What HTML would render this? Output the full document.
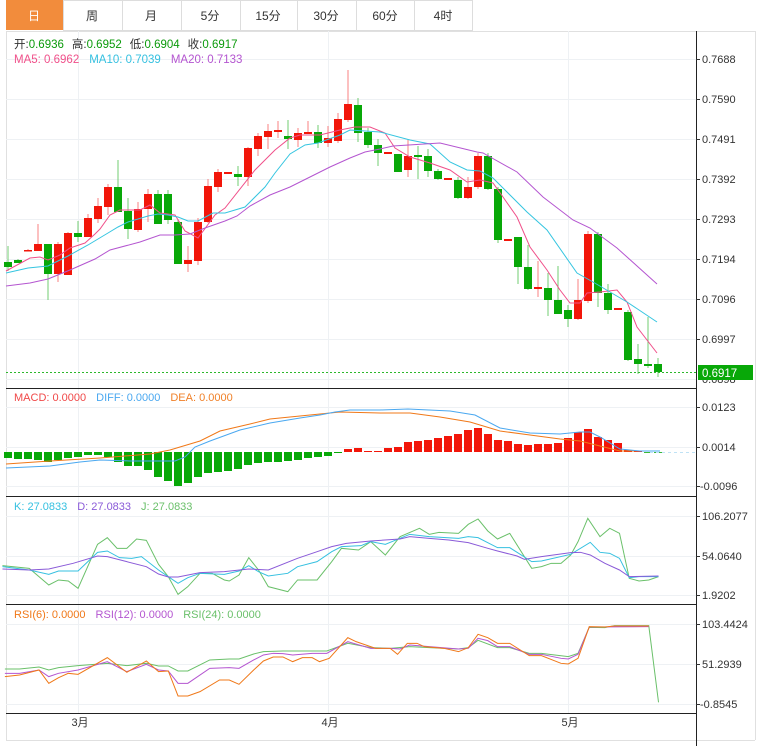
<!DOCTYPE html>
<html><head><meta charset="utf-8"><style>
body{margin:0;background:#fff;width:763px;height:746px;overflow:hidden;font-family:"Liberation Sans","Noto Sans CJK SC",sans-serif;}
svg{position:absolute;left:0;top:0}
</style></head><body>
<svg id="s" width="763" height="746" xmlns="http://www.w3.org/2000/svg" font-family="Liberation Sans, Noto Sans CJK SC, sans-serif">
<rect x="0" y="0" width="763" height="746" fill="#fff"/>
<!-- tabs -->
<g font-size="12" fill="#333" text-anchor="middle">
<rect x="6" y="0" width="57" height="30" fill="#f28c3c"/>
<rect x="63.5" y="0.5" width="409" height="30" fill="none" stroke="#ddd"/>
<path d="M122.5 0V30M181.5 0V30M240.5 0V30M297.5 0V30M356.5 0V30M414.5 0V30" stroke="#ddd"/>
<text x="34" y="20" fill="#fff">日</text><text x="92" y="20">周</text><text x="151" y="20">月</text><text x="210" y="20">5分</text><text x="268" y="20">15分</text><text x="326" y="20">30分</text><text x="385" y="20">60分</text><text x="443" y="20">4时</text>
</g>
<!-- frame -->
<path d="M6.5 31V740M6 740.5H755M755.5 31V740M6 31.5H755" stroke="#e0e0e0" fill="none"/>
<g stroke="#eef1f4">
<path d="M6 59.5H696M6 99.5H696M6 139.5H696M6 179.5H696M6 219.5H696M6 259.5H696M6 299.5H696M6 339.5H696M6 379.5H696"/>
<path d="M6 407.5H696M6 447.5H696M6 486.5H696M6 516.5H696M6 556.5H696M6 595.5H696M6 624.5H696M6 664.5H696M6 704.5H696"/>
<path d="M78.5 31V713M328.5 31V713M568.5 31V713"/>
</g>
<path d="M6 388.5H696M6 496.5H696M6 604.5H696M6 713.5H696" stroke="#222"/>
<path d="M696.5 31V746" stroke="#222"/>
<g font-size="11" fill="#333">
<text x="702" y="63">0.7688</text><text x="702" y="103">0.7590</text><text x="702" y="143">0.7491</text><text x="702" y="183">0.7392</text><text x="702" y="223">0.7293</text><text x="702" y="263">0.7194</text><text x="702" y="303">0.7096</text><text x="702" y="343">0.6997</text><text x="702" y="383">0.6898</text>
<text x="702" y="411">0.0123</text><text x="702" y="451">0.0014</text><text x="700" y="490">-0.0096</text>
<text x="702" y="520">106.2077</text><text x="702" y="560">54.0640</text><text x="702" y="599">1.9202</text>
<text x="702" y="628">103.4424</text><text x="702" y="668">51.2939</text><text x="700" y="708">-0.8545</text>
</g>
<g stroke="#333"><path d="M696 59.5h4M696 99.5h4M696 139.5h4M696 179.5h4M696 219.5h4M696 259.5h4M696 299.5h4M696 339.5h4M696 407.5h4M696 447.5h4M696 486.5h4M696 516.5h4M696 556.5h4M696 595.5h4M696 624.5h4M696 664.5h4M696 704.5h4"/></g>
<g font-size="11" fill="#333" text-anchor="middle"><text x="80" y="726">3月</text><text x="330" y="726">4月</text><text x="570" y="726">5月</text></g>
<!-- legends -->
<g font-size="11.5">
<text x="14" y="48"><tspan fill="#333">开:</tspan><tspan fill="#0a9a0a">0.6936</tspan><tspan fill="#333" dx="8">高:</tspan><tspan fill="#0a9a0a">0.6952</tspan><tspan fill="#333" dx="8">低:</tspan><tspan fill="#0a9a0a">0.6904</tspan><tspan fill="#333" dx="8">收:</tspan><tspan fill="#0a9a0a">0.6917</tspan></text>
<text x="14" y="63"><tspan fill="#f0508a">MA5: 0.6962</tspan><tspan fill="#35c0e0" dx="10">MA10: 0.7039</tspan><tspan fill="#b455d0" dx="10">MA20: 0.7133</tspan></text>
<text x="14" y="401" font-size="11"><tspan fill="#f04848">MACD: 0.0000</tspan><tspan fill="#4aa8f0" dx="10">DIFF: 0.0000</tspan><tspan fill="#f08028" dx="10">DEA: 0.0000</tspan></text>
<text x="14" y="510" font-size="11"><tspan fill="#35c0e0">K: 27.0833</tspan><tspan fill="#8a5ad8" dx="10">D: 27.0833</tspan><tspan fill="#6ac06a" dx="10">J: 27.0833</tspan></text>
<text x="14" y="618" font-size="11"><tspan fill="#f07818">RSI(6): 0.0000</tspan><tspan fill="#b455d0" dx="10">RSI(12): 0.0000</tspan><tspan fill="#6ac06a" dx="10">RSI(24): 0.0000</tspan></text>
</g>
<g id="dyn"></g>
<path d="M6 372.5H696" stroke="#2cb82c" stroke-dasharray="2,2"/>
<rect x="698" y="365" width="55" height="15" fill="#08a808"/>
<text x="702" y="377" font-size="11.5" fill="#fff">0.6917</text>
<path d="M650 452.5H696" stroke="#bfe2f5" stroke-dasharray="3,3"/>
</svg>
<script>
var NS="http://www.w3.org/2000/svg",g=document.getElementById("dyn");
function el(t,a){var e=document.createElementNS(NS,t);for(var k in a)e.setAttribute(k,a[k]);g.appendChild(e);return e;}
// [bodyTop,bodyBot,wickTop,wickBot,color r/g]
var C=[[262,267,246,271,'g'],[260,263,259,263,'g'],[250,251,249,251,'r'],[244,251,224,251,'r'],[244,274,244,300,'g'],[244,274,242,282,'r'],[233,275,232,275,'r'],[233,237,221,242,'g'],[218,237,214,237,'r'],[206,219,198,223,'r'],[187,207,184,215,'r'],[187,212,160,212,'g'],[211,229,198,239,'g'],[209,230,202,232,'r'],[194,209,189,222,'r'],[194,224,190,224,'g'],[194,220,190,224,'g'],[222,264,219,264,'g'],[260,264,246,272,'r'],[222,261,218,265,'r'],[186,222,179,223,'r'],[172,187,169,192,'r'],[172,174,172,174,'r'],[174,177,166,186,'g'],[148,177,147,186,'r'],[136,149,133,156,'r'],[131,137,124,149,'r'],[130,132,121,138,'r'],[136,139,120,149,'g'],[133,140,128,147,'r'],[132,134,121,134,'r'],[132,143,125,148,'g'],[138,143,126,147,'r'],[119,141,113,143,'r'],[104,120,70,122,'r'],[105,133,98,142,'g'],[132,145,128,148,'g'],[145,153,139,166,'g'],[152,154,152,154,'r'],[154,172,154,172,'g'],[156,170,139,177,'r'],[155,157,146,179,'g'],[156,171,149,177,'g'],[171,179,169,180,'g'],[178,180,178,180,'r'],[180,198,177,199,'g'],[187,198,177,199,'r'],[156,187,153,189,'r'],[156,189,153,190,'g'],[189,240,187,243,'g'],[239,241,239,241,'r'],[237,267,237,284,'g'],[267,289,245,290,'g'],[287,289,261,297,'r'],[288,300,273,316,'g'],[300,314,266,314,'g'],[310,319,305,327,'g'],[300,319,279,320,'r'],[234,301,231,303,'r'],[234,293,232,307,'g'],[293,310,284,314,'g'],[308,310,308,310,'r'],[312,360,310,361,'g'],[359,364,344,374,'g'],[364,366,317,368,'g'],[364,372,358,377,'g']];
var RED="#f2160a",GRN="#08a808";
C.forEach(function(c,i){var x=8+10*i,col=c[4]=='r'?RED:GRN,wc=c[4]=='r'?"#f88080":"#70cc70";
el("line",{x1:x,x2:x,y1:c[2],y2:c[3],stroke:wc,"stroke-width":1});
el("rect",{x:x-4,y:c[0],width:8,height:Math.max(1.5,c[1]-c[0]),fill:col});});
function pl(pts,col,w,tr){var e=el("polyline",{points:pts,fill:"none",stroke:col,"stroke-width":w||1,"vector-effect":"non-scaling-stroke"});if(tr)e.setAttribute("transform",tr);}
pl("6,271 30,258 40,257 48,260 60,255 70,248 85,243 95,234 100,229 110,215 120,210 140,210 150,205 160,213 175,215 185,231 198,238 215,215 225,208 255,170 275,150 290,138 300,135 320,135 340,130 355,127 370,127 385,133 395,148 410,157 430,163 450,170 467,182 480,180 493,183 503,197 517,217 530,247 547,270 560,290 570,303 580,303 587,293 600,292 617,290 627,302 637,327 657,353","#f0508a");
pl("6,273 28,268 48,266 68,256 88,245 108,233 118,227 128,222 148,216 158,214 168,215 178,217 188,221 198,221 213,213 225,213 245,207 265,187 275,173 290,154 305,145 318,143 340,135 350,130 365,131 380,132 410,140 430,144 450,162 467,170 480,171 493,178 527,212 547,230 577,273 593,282 627,302 657,322","#35c5e0");
pl("6,286 30,283 48,279 70,270 95,259 110,250 140,242 160,235 175,235 190,234 205,228 225,221 237,216 250,206 270,195 290,187 310,177 330,167 350,158 365,152 380,149 393,146 440,143 477,152 483,153 517,172 543,197 573,220 590,228 617,248 657,284","#b455d0");
// MACD bars
var M=[458,459,459,460,462,460,458,457,455,455,457,462,466,466,470,477,481,486,483,477,473,472,471,469,465,463,462,462,461,460,458,457,456,453,449,448,451,451,448,447,442,441,440,438,436,434,430,428,434,440,441,444,445,444,444,443,438,432,429,437,440,443,450,451,452,452];
M.forEach(function(v,i){var x=8+10*i;if(v>=452)el("rect",{x:x-4,y:452,width:8,height:Math.max(0.8,v-452),fill:GRN});else el("rect",{x:x-4,y:v,width:8,height:452-v,fill:RED});});
pl("6,464 50,461 100,458 150,454 170,450 200,441 220,431 250,424 270,419 300,416 330,413 340,412 380,413 410,413 440,417 470,422 500,431 530,435 560,439 580,441 600,446 620,451 660,451","#f07818");
pl("6,468 50,466 80,462 100,460 130,461 175,461 185,457 195,447 210,441 240,430 270,423 300,418 320,415 335,412 350,410 380,410 408,409 450,411 475,415 500,428 530,433 560,434 580,432 590,432 600,437 620,449 640,451 660,451","#4aa8f0");
var T="translate(0,495) scale(0.4878,0.3333)";
pl("5,212 60,220 100,270 120,255 140,258 160,280 200,148 220,128 240,160 260,160 280,132 300,136 325,208 345,245 365,298 385,275 410,235 435,235 460,255 470,258 490,240 510,188 530,225 550,275 590,290 610,255 650,255 680,200 700,160 735,165 760,140 790,180 820,125 860,100 880,118 900,112 940,115 960,88 980,72 1000,108 1020,132 1045,115 1090,220 1110,215 1130,205 1150,205 1170,180 1185,140 1205,70 1230,125 1250,100 1270,115 1290,250 1310,258 1330,255 1350,245","#6ac06a",1,T);
pl("5,215 60,225 100,238 120,228 160,228 200,172 220,168 245,188 270,190 290,185 325,225 345,245 365,265 385,248 410,235 460,238 490,228 510,212 530,230 550,243 590,235 610,215 650,200 680,170 700,155 740,152 760,140 790,148 820,130 840,118 880,125 940,130 960,125 980,128 1000,143 1020,158 1045,158 1090,200 1110,198 1170,178 1210,142 1230,172 1250,175 1270,190 1290,248 1310,245 1350,245","#35c0e0",1,T);
pl("5,222 60,225 100,222 150,205 200,183 220,185 260,200 300,215 325,237 345,246 365,246 410,233 460,230 510,222 550,225 610,190 650,170 680,155 710,145 760,138 820,132 840,125 880,130 920,135 960,143 1000,160 1020,168 1060,183 1075,193 1110,185 1170,173 1190,172 1210,180 1240,205 1270,225 1290,245 1350,243","#8a5ad8",1,T);
pl("10,522 40,522 80,516 100,525 120,518 160,512 220,505 260,512 300,505 325,513 345,513 365,528 385,528 430,495 470,492 490,492 520,477 540,470 580,468 640,468 670,468 713,445 760,458 800,460 840,455 880,458 940,462 960,458 980,436 1020,458 1045,458 1085,475 1110,475 1165,485 1185,475 1208,397 1240,398 1260,392 1330,392 1350,622","#6ac06a",1,T);
pl("10,535 40,535 80,525 100,545 120,535 160,525 220,500 260,530 300,508 325,525 345,528 365,565 385,565 430,520 470,518 490,520 520,495 540,480 560,475 580,476 600,480 640,475 670,475 713,440 760,460 800,460 820,462 840,450 880,455 940,462 960,460 980,430 1000,437 1020,455 1045,455 1085,478 1110,478 1150,490 1165,492 1185,478 1208,396 1330,395","#b455d0",1,T);
pl("10,545 40,540 80,525 100,565 120,548 140,535 160,538 220,488 260,532 300,498 325,530 345,528 365,603 385,603 410,590 450,555 470,555 490,568 520,525 540,498 560,486 580,486 600,500 620,488 640,488 655,500 675,490 713,428 730,440 770,460 800,460 815,478 835,445 855,445 870,455 910,460 940,470 960,458 980,418 1000,428 1020,445 1045,445 1085,482 1110,482 1150,505 1165,507 1185,490 1208,395 1240,396 1260,393 1330,393","#f07818",1,T);
</script>
</body></html>
